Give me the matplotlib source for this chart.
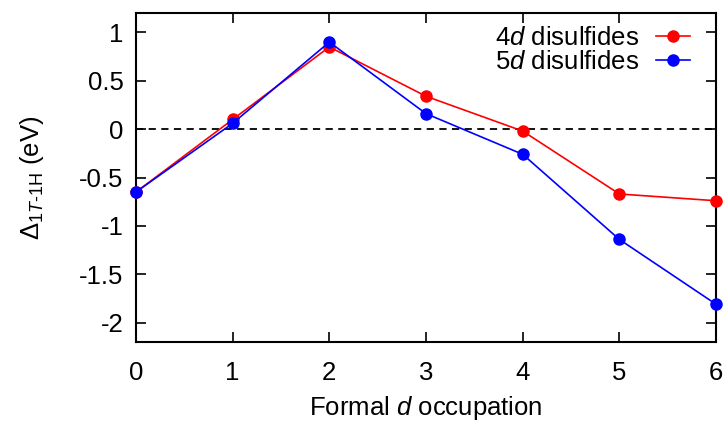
import matplotlib
matplotlib.use('Agg')
import matplotlib.pyplot as plt

# formal d occupation
occupation = [0, 1, 2, 3, 4, 5, 6]
delta_4d = [-0.65, 0.10, 0.85, 0.34, -0.02, -0.67, -0.74]
delta_5d = [-0.65, 0.06, 0.90, 0.16, -0.26, -1.14, -1.81]

plt.rcParams['font.family'] = ['Liberation Sans', 'DejaVu Sans']
plt.rcParams['mathtext.fontset'] = 'custom'
plt.rcParams['mathtext.rm'] = 'Liberation Sans'
plt.rcParams['mathtext.it'] = 'Liberation Sans:italic'
plt.rcParams['mathtext.bf'] = 'Liberation Sans:bold'

fs = 18.5

fig = plt.figure(figsize=(7.27, 4.21), dpi=100)
ax = fig.add_axes([0.187, 0.1876, 0.798, 0.7814])

ax.axhline(0, color='black', linestyle='--', linewidth=1.3, dashes=(4, 3))
ax.plot(occupation, delta_4d, color='#ff0000', marker='o', markersize=8,
        linewidth=1.2, label=r'$\it{4d}$ disulfides', clip_on=False, zorder=3)
ax.plot(occupation, delta_5d, color='#0000ff', marker='o', markersize=8,
        linewidth=1.2, label=r'$\it{5d}$ disulfides', clip_on=False, zorder=4)

ax.set_xlim(0, 6)
ax.set_ylim(-2.2, 1.2)
ax.set_xticks(occupation)
ax.set_yticks([-2, -1.5, -1, -0.5, 0, 0.5, 1])
ax.set_yticklabels(['-2', '-1.5', '-1', '-0.5', '0', '0.5', '1'])
ax.tick_params(direction='in', top=True, right=True, length=7, width=1.2,
               labelsize=fs, pad=9)
ax.tick_params(axis='x', pad=14)
for s in ax.spines.values():
    s.set_linewidth(1.5)

ax.set_xlabel(r'Formal $\it{d}$ occupation', fontsize=fs, labelpad=6)
ax.set_ylabel(r'$\Delta_{\it{1T}\rm{\text{-}1H}}$ (eV)', fontsize=fs, labelpad=24)

ax.legend(loc='upper right', frameon=False, markerfirst=False, fontsize=fs,
          handlelength=1.35, handletextpad=0.65, labelspacing=0.0,
          borderaxespad=0.1, bbox_to_anchor=(0.978, 1.0))

plt.savefig('out.png', dpi=100)
